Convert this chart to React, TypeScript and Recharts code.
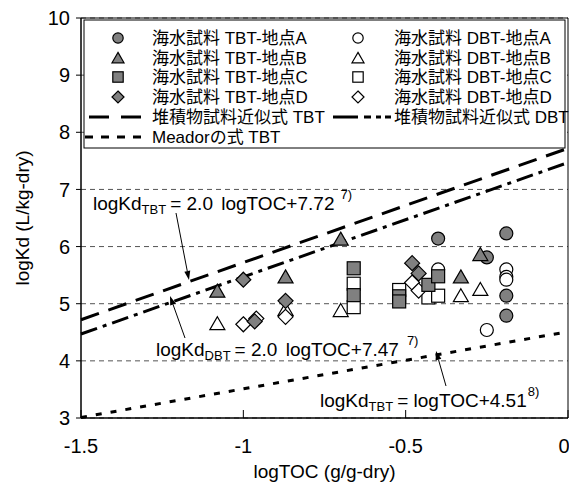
import { ScatterChart, Scatter, XAxis, YAxis, CartesianGrid, ReferenceLine, ReferenceArea } from "recharts"

const FONT = "'Liberation Sans', Arial, 'Noto Sans CJK JP', sans-serif"

const xTicks = [-1.5, -1, -0.5, 0]
const yTicks = [3, 4, 5, 6, 7, 8, 9, 10]

// seawater samples
const tbtAx = [-0.4, -0.19, -0.25, -0.19, -0.19]
const tbtAy = [6.14, 6.23, 5.81, 5.14, 4.79]
const tbtBx = [-1.08, -0.87, -0.7, -0.33, -0.27]
const tbtBy = [5.22, 5.47, 6.13, 5.47, 5.86]
const tbtCx = [-0.66, -0.66, -0.52, -0.52, -0.43, -0.4]
const tbtCy = [5.62, 5.15, 5.13, 5.04, 5.33, 5.48]
const tbtDx = [-1.0, -0.965, -0.87, -0.48, -0.46]
const tbtDy = [5.42, 4.69, 5.05, 5.71, 5.53]

const dbtAx = [-0.4, -0.19, -0.19, -0.19, -0.25]
const dbtAy = [5.6, 5.6, 5.47, 5.42, 4.54]
const dbtBx = [-1.08, -0.87, -0.7, -0.33, -0.27]
const dbtBy = [4.65, 4.9, 4.88, 5.14, 5.25]
const dbtCx = [-0.66, -0.66, -0.52, -0.43, -0.4]
const dbtCy = [5.35, 4.94, 5.24, 5.11, 5.14]
const dbtDx = [-1.0, -0.96, -0.87, -0.48, -0.46]
const dbtDy = [4.64, 4.74, 4.77, 5.37, 5.23]

// fitted / literature lines: logKd = slope * logTOC + intercept
const fitNames = ["堆積物試料近似式 TBT", "堆積物試料近似式 DBT", "Meadorの式 TBT"]
const fitSlopes = [2.0, 2.0, 1.0]
const fitIntercepts = [7.72, 7.47, 4.51]
const fitDash = ["19 10", "17 6 4 6", "6 9"]

const GRAY = "#808080"

const zip = (xs: number[], ys: number[]) => xs.map((x, i) => ({ x, y: ys[i] }))

const series = [
  { name: "海水試料 DBT-地点A", data: zip(dbtAx, dbtAy), kind: "circle", fill: "#fff" },
  { name: "海水試料 DBT-地点B", data: zip(dbtBx, dbtBy), kind: "triangle", fill: "#fff" },
  { name: "海水試料 DBT-地点C", data: zip(dbtCx, dbtCy), kind: "square", fill: "#fff" },
  { name: "海水試料 DBT-地点D", data: zip(dbtDx, dbtDy), kind: "diamond", fill: "#fff" },
  { name: "海水試料 TBT-地点A", data: zip(tbtAx, tbtAy), kind: "circle", fill: GRAY },
  { name: "海水試料 TBT-地点B", data: zip(tbtBx, tbtBy), kind: "triangle", fill: GRAY },
  { name: "海水試料 TBT-地点C", data: zip(tbtCx, tbtCy), kind: "square", fill: GRAY },
  { name: "海水試料 TBT-地点D", data: zip(tbtDx, tbtDy), kind: "diamond", fill: GRAY },
]

function Marker({ cx, cy, kind, fill, s = 1 }: any) {
  const common = { fill, stroke: "#000", strokeWidth: 1.2 }
  if (kind === "circle") return <circle cx={cx} cy={cy} r={6.5 * s} {...common} />
  if (kind === "square") return <rect x={cx - 6.5 * s} y={cy - 6.5 * s} width={13 * s} height={13 * s} {...common} />
  if (kind === "triangle")
    return <polygon points={`${cx},${cy - 7 * s} ${cx + 7.5 * s},${cy + 6 * s} ${cx - 7.5 * s},${cy + 6 * s}`} {...common} />
  return <polygon points={`${cx},${cy - 7.5 * s} ${cx + 7.5 * s},${cy} ${cx},${cy + 7.5 * s} ${cx - 7.5 * s},${cy}`} {...common} />
}

function Arrow({ x1, y1, x2, y2 }: any) {
  const a = Math.atan2(y2 - y1, x2 - x1)
  const L = 9, W = 3
  const bx = x2 - L * Math.cos(a), by = y2 - L * Math.sin(a)
  const px = -Math.sin(a) * W, py = Math.cos(a) * W
  return (
    <g>
      <line x1={x1} y1={y1} x2={bx} y2={by} stroke="#000" strokeWidth={1} />
      <polygon points={`${x2},${y2} ${bx + px},${by + py} ${bx - px},${by - py}`} fill="#000" />
    </g>
  )
}

const legendRows = [38, 58, 77, 97, 117, 137]

function Overlay() {
  const tbtLegend = series.slice(4)
  const dbtLegend = series.slice(0, 4)
  return (
    <svg width={569} height={484} style={{ position: "absolute", left: 0, top: 0, pointerEvents: "none" }} fontFamily={FONT}>
      <rect x={84} y={20} width={481} height={128} fill="#fff" stroke="#000" strokeWidth={1} />
      {tbtLegend.map((s, i) => (
        <g key={s.name}>
          <Marker cx={118} cy={legendRows[i]} kind={s.kind} fill={s.fill} s={0.8} />
          <text x={152} y={legendRows[i]} dominantBaseline="central" fontSize={17}>{s.name}</text>
        </g>
      ))}
      {dbtLegend.map((s, i) => (
        <g key={s.name}>
          <Marker cx={358} cy={legendRows[i]} kind={s.kind} fill={s.fill} s={0.8} />
          <text x={394} y={legendRows[i]} dominantBaseline="central" fontSize={17}>{s.name}</text>
        </g>
      ))}
      <line x1={89} x2={142} y1={117} y2={117} stroke="#000" strokeWidth={3} strokeDasharray="20 12" />
      <text x={152} y={117} dominantBaseline="central" fontSize={17}>{fitNames[0]}</text>
      <line x1={333} x2={391} y1={117} y2={117} stroke="#000" strokeWidth={3} strokeDasharray="25 6 7 5 5 4 8" />
      <text x={394} y={117} dominantBaseline="central" fontSize={17}>{fitNames[1]}</text>
      <line x1={85} x2={145} y1={137} y2={137} stroke="#000" strokeWidth={3} strokeDasharray="8 8" />
      <text x={152} y={137} dominantBaseline="central" fontSize={17}>{fitNames[2]}</text>

      <text x={93} y={210} fontSize={19}>
        logKd<tspan fontSize={13} dy={4}>TBT</tspan>
        <tspan dy={-4} dx={4}>= 2.0 </tspan>
        <tspan dx={3}>logTOC+7.72</tspan>
        <tspan fontSize={13} dy={-11} dx={6}>7)</tspan>
      </text>
      <Arrow x1={176} y1={213} x2={189} y2={280} />

      <text x={156} y={356} fontSize={19}>
        logKd<tspan fontSize={13} dy={4}>DBT</tspan>
        <tspan dy={-4} dx={4}>= 2.0 </tspan>
        <tspan dx={3}>logTOC+7.47</tspan>
        <tspan fontSize={13} dy={-11} dx={8}>7)</tspan>
      </text>
      <Arrow x1={185} y1={338} x2={170} y2={296} />

      <text x={320} y={407} fontSize={19}>
        logKd<tspan fontSize={13} dy={4}>TBT</tspan>
        <tspan dy={-4} dx={4}>= logTOC+4.51</tspan>
        <tspan fontSize={13} dy={-11} dx={1}>8)</tspan>
      </text>
      <Arrow x1={446} y1={386} x2={436} y2={351} />
    </svg>
  )
}

export default function App() {
  return (
    <div style={{ position: "absolute", left: 0, top: 0, width: 569, height: 484, background: "#fff", fontFamily: FONT }}>
      <ScatterChart width={569} height={484} margin={{ top: 18, right: 1, bottom: 0, left: 0 }}>
        <CartesianGrid vertical={false} stroke="#555" strokeDasharray="5 4" />
        <XAxis
          type="number"
          dataKey="x"
          domain={[-1.5, 0]}
          ticks={xTicks}
          allowDataOverflow
          height={66}
          tickSize={-8}
          tickMargin={29}
          stroke="#000"
          tick={{ fill: "#000", fontSize: 20, fontFamily: FONT }}
          label={{ value: "logTOC (g/g-dry)", position: "insideBottom", offset: 6, fill: "#000", fontSize: 19, fontFamily: FONT }}
        />
        <YAxis
          type="number"
          dataKey="y"
          domain={[3, 10]}
          ticks={yTicks}
          allowDataOverflow
          width={81}
          tickSize={5}
          tickMargin={6}
          stroke="#000"
          tick={{ fill: "#000", fontSize: 20, fontFamily: FONT }}
          label={{ value: "logKd (L/kg-dry)", angle: -90, position: "insideLeft", offset: 22, fill: "#000", fontSize: 19, fontFamily: FONT, style: { textAnchor: "middle" } }}
        />
        <ReferenceArea x1={-1.5} x2={0} y1={3} y2={10} fill="none" stroke="#000" strokeWidth={1} />
        {fitNames.map((n, i) => (
          <ReferenceLine
            key={n}
            segment={[
              { x: -1.5, y: fitSlopes[i] * -1.5 + fitIntercepts[i] },
              { x: 0, y: fitIntercepts[i] },
            ]}
            stroke="#000"
            strokeWidth={3}
            strokeDasharray={fitDash[i]}
          />
        ))}
        {series.map((s) => (
          <Scatter
            key={s.name}
            name={s.name}
            data={s.data}
            isAnimationActive={false}
            shape={(p: any) => <Marker cx={p.cx} cy={p.cy} kind={s.kind} fill={s.fill} />}
          />
        ))}
      </ScatterChart>
      <Overlay />
    </div>
  )
}
